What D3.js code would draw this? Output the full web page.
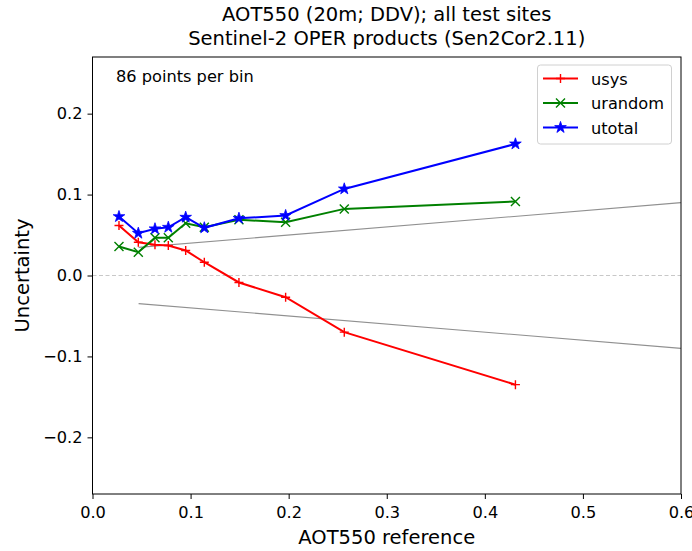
<!DOCTYPE html>
<html><head><meta charset="utf-8">
<script src="https://cdn.jsdelivr.net/npm/d3@7"></script>
<style>body{margin:0;background:#fff}svg{display:block}text{font-family:"DejaVu Sans",sans-serif;fill:#000}</style>
</head><body><svg id="c" width="692" height="551"></svg>
<script>
const aot = [0.0270, 0.0467, 0.0637, 0.0773, 0.0950, 0.1140, 0.1493, 0.1969, 0.2567, 0.4312];
const usys = [0.0617, 0.0411, 0.0379, 0.0370, 0.0309, 0.0164, -0.0086, -0.0268, -0.0700, -0.1349];
const urandom = [0.0358, 0.0288, 0.0465, 0.0465, 0.0646, 0.0596, 0.0688, 0.0658, 0.0823, 0.0914];
const utotal = [0.0728, 0.0522, 0.0577, 0.0596, 0.0720, 0.0589, 0.0707, 0.0741, 0.1070, 0.1626];
const xTicks = [0.0, 0.1, 0.2, 0.3, 0.4, 0.5, 0.6];
const yTicks = [-0.2, -0.1, 0.0, 0.1, 0.2];
const specX = [0.047, 0.6];
const specOffset = 0.03, specSlope = 0.1;
const seriesNames = ["usys", "urandom", "utotal"];
const seriesColors = ["#ff0000", "#008000", "#0000ff"];
const seriesMarkers = ["plus", "cross", "star"];

const svg = d3.select("#c");
const L = 92.5, R = 681, T = 57, B = 494;
const x = d3.scaleLinear().domain([0, 0.6]).range([L, R]);
const y = d3.scaleLinear().domain([-0.27, 0.27]).range([B, T]);
const FS = 16.2, FL = 19.5;

// zero dashed line
svg.append("line").attr("x1", L).attr("x2", R).attr("y1", y(0)).attr("y2", y(0))
  .attr("stroke", "#c8c8c8").attr("stroke-width", 1).attr("stroke-dasharray", "4,2.5");

// spec lines
[1, -1].forEach(s => {
  svg.append("line")
    .attr("x1", x(specX[0])).attr("y1", y(s * (specOffset + specSlope * specX[0])))
    .attr("x2", x(specX[1])).attr("y2", y(s * (specOffset + specSlope * specX[1])))
    .attr("stroke", "#909090").attr("stroke-width", 1.1);
});

const data = [usys, urandom, utotal];
const line = d3.line().x(d => x(d[0])).y(d => y(d[1]));

function marker(g, type, color, cx, cy) {
  if (type === "plus") {
    g.append("path").attr("d", `M${cx-4.5},${cy}H${cx+4.5}M${cx},${cy-4.5}V${cy+4.5}`)
      .attr("stroke", color).attr("stroke-width", 1.4).attr("fill", "none");
  } else if (type === "cross") {
    g.append("path").attr("d", `M${cx-4.5},${cy-4.5}L${cx+4.5},${cy+4.5}M${cx-4.5},${cy+4.5}L${cx+4.5},${cy-4.5}`)
      .attr("stroke", color).attr("stroke-width", 1.4).attr("fill", "none");
  } else {
    g.append("path").attr("d", d3.symbol().type(d3.symbolStar).size(42)())
      .attr("transform", `translate(${cx},${cy})`).attr("fill", color).attr("stroke", color).attr("stroke-width", 0.8);
  }
}

data.forEach((vals, i) => {
  const pts = aot.map((a, j) => [a, vals[j]]);
  svg.append("path").attr("d", line(pts)).attr("fill", "none")
    .attr("stroke", seriesColors[i]).attr("stroke-width", 2);
  const g = svg.append("g");
  pts.forEach(p => marker(g, seriesMarkers[i], seriesColors[i], x(p[0]), y(p[1])));
});

// frame
svg.append("rect").attr("x", L).attr("y", T).attr("width", R - L).attr("height", B - T)
  .attr("fill", "none").attr("stroke", "#000").attr("stroke-width", 1);

// axes
const fmt = d3.format(".1f");
const xa = svg.append("g").attr("transform", `translate(0,${B})`)
  .call(d3.axisBottom(x).tickValues(xTicks).tickFormat(fmt).tickSize(5).tickPadding(7));
const ya = svg.append("g").attr("transform", `translate(${L},0)`)
  .call(d3.axisLeft(y).tickValues(yTicks).tickFormat(fmt).tickSize(5).tickPadding(5));
[xa, ya].forEach(a => {
  a.select(".domain").remove();
  a.selectAll("text").attr("font-size", FS).attr("font-family", "DejaVu Sans").attr("fill", "#000");
  a.selectAll("line").attr("stroke", "#000");
});

// labels
svg.append("text").attr("x", (L + R) / 2).attr("y", 544).attr("text-anchor", "middle")
  .attr("font-size", FL).text("AOT550 reference");
svg.append("text").attr("transform", `translate(29,${(T + B) / 2}) rotate(-90)`).attr("text-anchor", "middle")
  .attr("font-size", FL).text("Uncertainty");
svg.append("text").attr("x", (L + R) / 2).attr("y", 21).attr("text-anchor", "middle")
  .attr("font-size", FL).text("AOT550 (20m; DDV); all test sites");
svg.append("text").attr("x", (L + R) / 2).attr("y", 45).attr("text-anchor", "middle")
  .attr("font-size", FL).text("Sentinel-2 OPER products (Sen2Cor2.11)");
svg.append("text").attr("x", 116).attr("y", 82).attr("font-size", FS).text("86 points per bin");

// legend
const lg = svg.append("g");
lg.append("rect").attr("x", 537.5).attr("y", 65).attr("width", 134).attr("height", 79).attr("rx", 3)
  .attr("fill", "#fff").attr("fill-opacity", 0.8).attr("stroke", "#d0d0d0");
seriesNames.forEach((n, i) => {
  const yy = 78.5 + i * 24.5;
  lg.append("line").attr("x1", 543).attr("x2", 578).attr("y1", yy).attr("y2", yy)
    .attr("stroke", seriesColors[i]).attr("stroke-width", 2);
  marker(lg, seriesMarkers[i], seriesColors[i], 560.5, yy);
  lg.append("text").attr("x", 591).attr("y", yy + 6).attr("font-size", FS).text(n);
});
</script></body></html>
